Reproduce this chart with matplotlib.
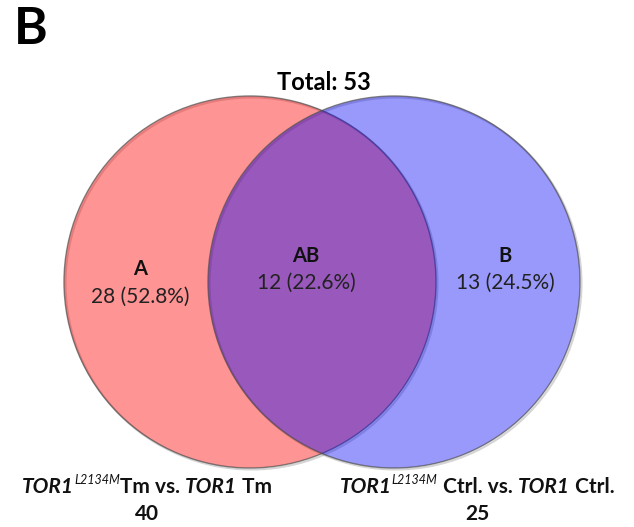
import matplotlib
matplotlib.use("Agg")
import matplotlib.pyplot as plt
from matplotlib.patches import Circle

# ---- data ----
panel_label = "B"
region_names = ["A", "AB", "B"]
region_counts = [28, 12, 13]
total = sum(region_counts)
set_totals = [40, 25]
set_label_parts = [
    [("TOR1", "bi"), ("L2134M", "sup"), ("Tm vs. ", "b"), ("TOR1", "bi"), (" Tm", "b")],
    [("TOR1", "bi"), ("L2134M", "sup"), (" Ctrl. vs. ", "b"), ("TOR1", "bi"), (" Ctrl.", "b")],
]

FONT = "Lato"
W, H = 634, 527
fig = plt.figure(figsize=(W / 100, H / 100), dpi=100)
ax = fig.add_axes([0, 0, 1, 1])
ax.set_xlim(0, W)
ax.set_ylim(H, 0)
ax.axis("off")

# circles
cl = (250, 282); cr = (394, 282); r = 186
for c in [cl, cr]:
    ax.add_patch(Circle((c[0] + 1.5, c[1] + 1.5), r, fill=False, ec="#888888", lw=1.5, alpha=0.35, zorder=1))
for c, col, a in [(cl, (1, 0, 0), 0.42), (cr, (0, 0, 0.97), 0.40)]:
    ax.add_patch(Circle(c, r, fc=col + (a,), ec=(0.3, 0.3, 0.3, 0.7), lw=1.0, zorder=2))

ax.text(14, 29, panel_label, fontsize=37, fontweight="bold", family=FONT, va="center", ha="left")
ax.text(324, 82, f"Total: {total}", fontsize=17, fontweight="bold", family=FONT, ha="center", va="center")

pos = [(140, 269, 297), (306, 256, 283), (505, 256, 283)]
for (x, y1, y2), name, cnt in zip(pos, region_names, region_counts):
    ax.text(x, y1, name, fontsize=14.5, fontweight="bold", family=FONT, ha="center", va="center", color="#111111", zorder=5)
    ax.text(x, y2, f"{cnt} ({cnt / total * 100:.1f}%)", fontsize=15, family=FONT, ha="center", va="center", color="#222222", zorder=5)

fig.canvas.draw()
renderer = fig.canvas.get_renderer()

def rich(cx, y, parts, fs):
    objs = []
    for txt, style in parts:
        kw = dict(family=FONT, va="baseline", ha="left", zorder=5, color="#111111")
        if style == "bi":
            t = ax.text(0, y, txt, fontsize=fs, fontweight="bold", fontstyle="italic", **kw)
        elif style == "sup":
            t = ax.text(0, y - fs * 0.6, txt, fontsize=fs * 0.6, fontstyle="italic", **kw)
        else:
            t = ax.text(0, y, txt, fontsize=fs, fontweight="bold", **kw)
        objs.append(t)
    widths = [o.get_window_extent(renderer).width for o in objs]
    x = cx - sum(widths) / 2
    for o, w in zip(objs, widths):
        o.set_x(x)
        x += w

label_cx = [147, 477]
for cx, parts, n in zip(label_cx, set_label_parts, set_totals):
    rich(cx, 493, parts, 15)
    ax.text(cx, 514, str(n), fontsize=15, fontweight="bold", family=FONT, ha="center", va="center", color="#111111")

fig.savefig("out.png", dpi=100)
